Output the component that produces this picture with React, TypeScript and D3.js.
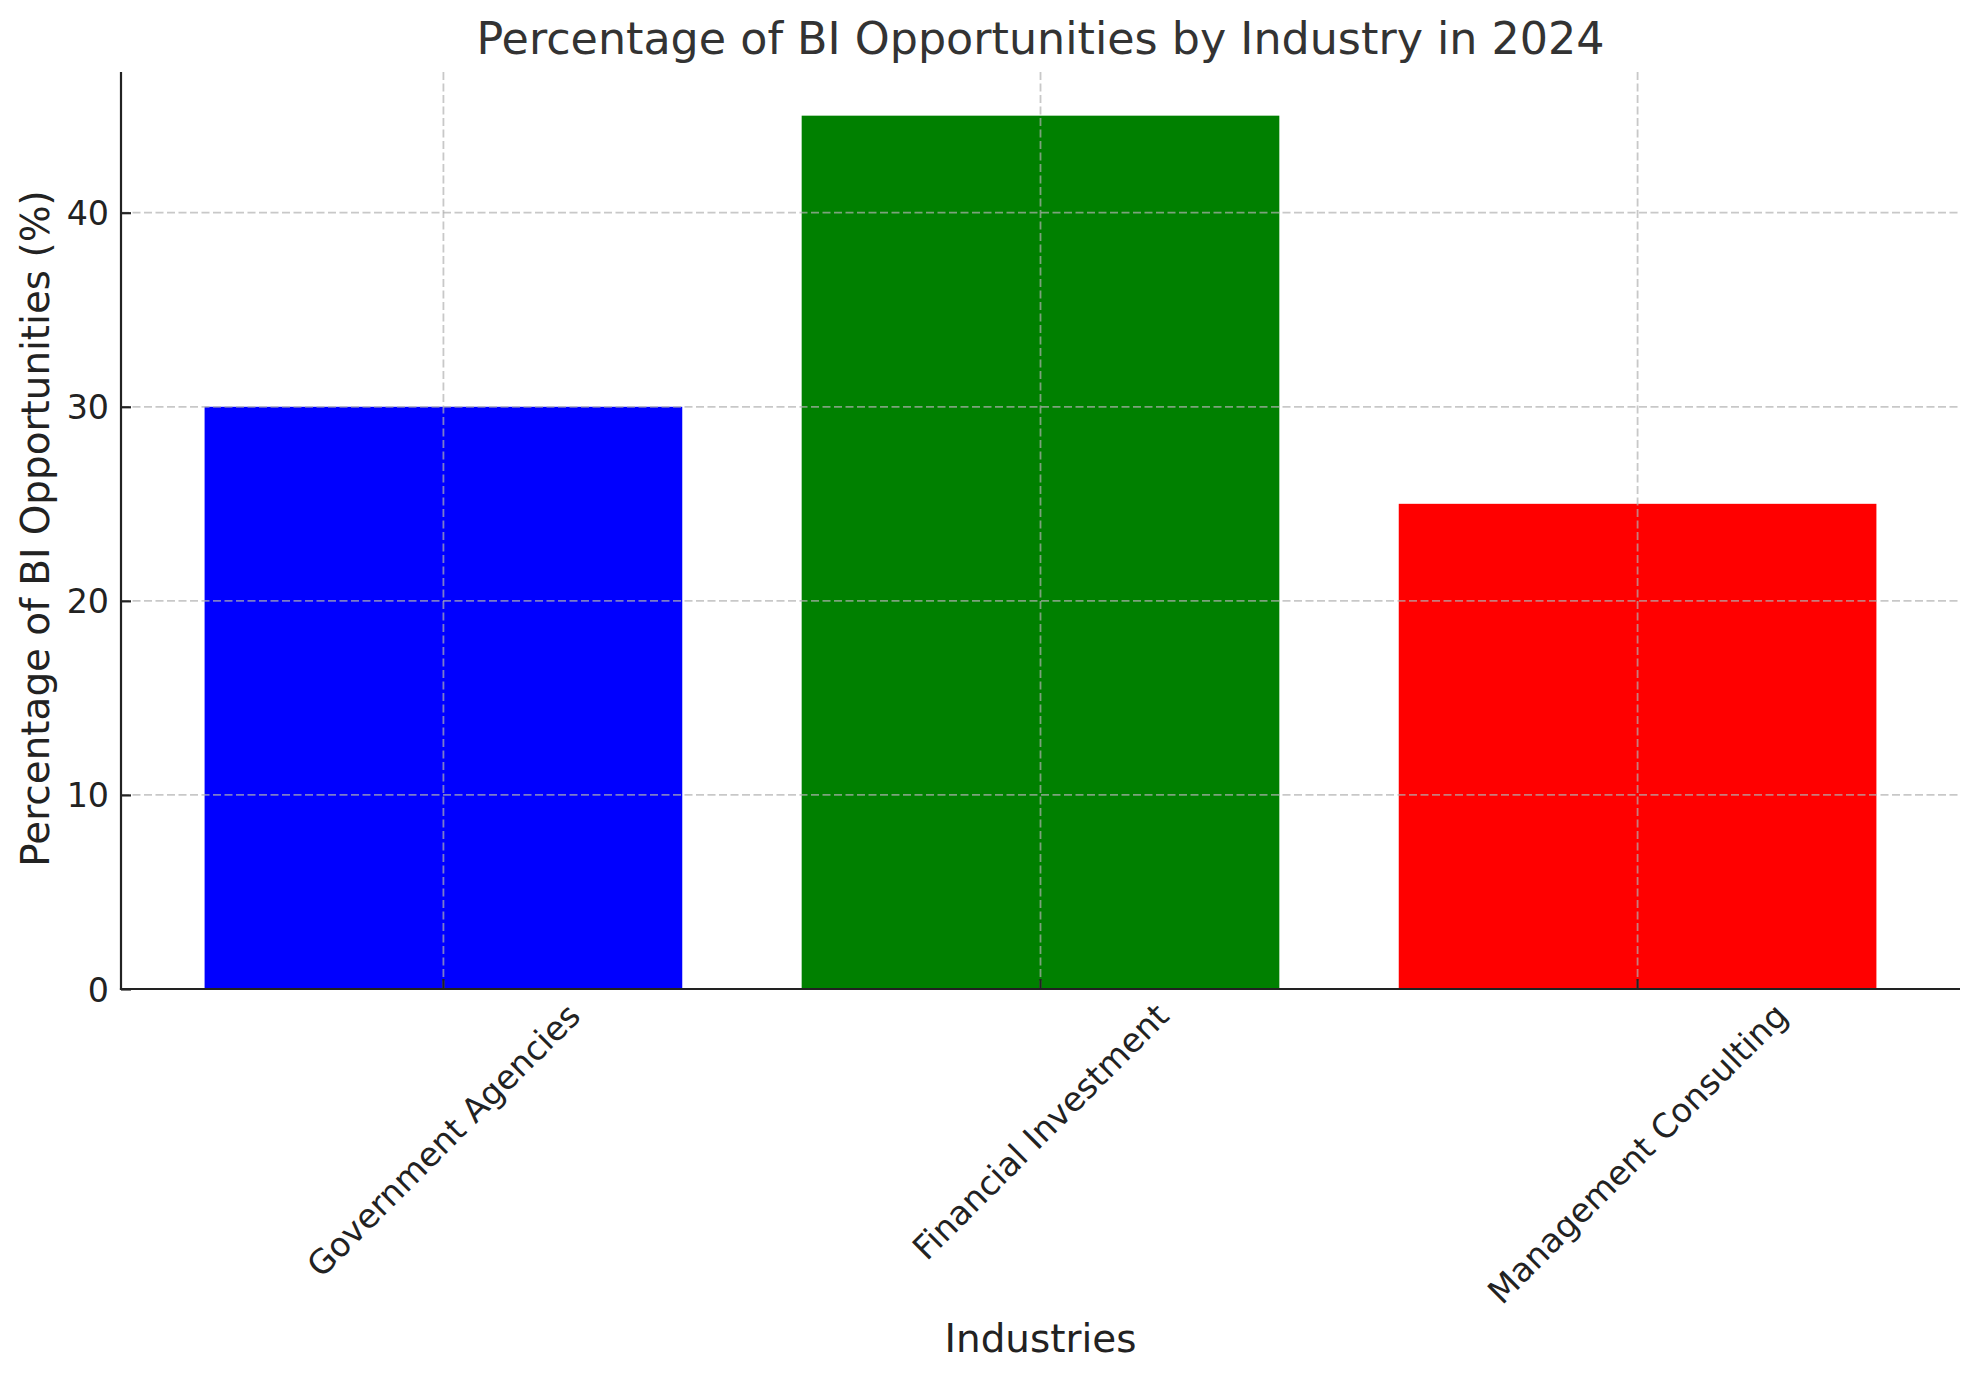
import { useEffect, useRef } from 'react'
import * as d3 from 'd3'

// Chart data
const industries = ['Government Agencies', 'Financial Investment', 'Management Consulting']
const percentages = [30, 45, 25]
const barColors = ['#0000ff', '#008000', '#ff0000']
const yTicks = [0, 10, 20, 30, 40]

const W = 1979
const H = 1380

const App = () => {
	const svgRef = useRef<SVGSVGElement>(null)

	useEffect(() => {
		document.body.style.margin = '0'

		const margin = { top: 72, right: 19, bottom: 391, left: 121 }
		const x0 = margin.left
		const x1 = W - margin.right
		const y0 = H - margin.bottom
		const y1 = margin.top
		const font = 'DejaVu Sans, sans-serif'

		const svg = d3.select(svgRef.current)
		svg.selectAll('*').remove()
		svg.attr('width', W).attr('height', H).style('display', 'block').style('background', '#fff')

		// Scales
		const x = d3
			.scaleBand<string>()
			.domain(industries)
			.range([x0, x1])
			.paddingInner(0.2)
			.paddingOuter(0.14)
		const y = d3
			.scaleLinear()
			.domain([0, d3.max(percentages)! * 1.05])
			.range([y0, y1])

		// Bars
		svg
			.append('g')
			.selectAll('rect')
			.data(industries)
			.enter()
			.append('rect')
			.attr('x', (d) => x(d)!)
			.attr('width', x.bandwidth())
			.attr('y', (d, i) => y(percentages[i]))
			.attr('height', (d, i) => y0 - y(percentages[i]))
			.attr('fill', (d, i) => barColors[i])

		// Grid (drawn over the bars)
		const grid = svg
			.append('g')
			.attr('stroke', '#b0b0b0')
			.attr('stroke-opacity', 0.7)
			.attr('stroke-width', 1.8)
			.attr('stroke-dasharray', '8,3.5')
		grid
			.selectAll('line.gy')
			.data(yTicks)
			.enter()
			.append('line')
			.attr('class', 'gy')
			.attr('x1', x0)
			.attr('x2', x1)
			.attr('y1', (d) => y(d))
			.attr('y2', (d) => y(d))
		grid
			.selectAll('line.gx')
			.data(industries)
			.enter()
			.append('line')
			.attr('class', 'gx')
			.attr('x1', (d) => x(d)! + x.bandwidth() / 2)
			.attr('x2', (d) => x(d)! + x.bandwidth() / 2)
			.attr('y1', y1)
			.attr('y2', y0)

		// Y axis: ticks point inward
		const yAxis = svg
			.append('g')
			.attr('transform', `translate(${x0},0)`)
			.call(d3.axisRight(y).tickValues(yTicks).tickSize(10).tickPadding(0).tickFormat(d3.format('d')))
		yAxis.select('.domain').remove()
		yAxis.selectAll('.tick line').attr('stroke', '#222').attr('stroke-width', 2.2)
		yAxis
			.selectAll('.tick text')
			.attr('x', -12)
			.attr('dy', '0.36em')
			.attr('text-anchor', 'end')
			.style('font-family', font)
			.style('font-size', '33.3px')
			.style('fill', '#222')

		// X axis ticks (inward)
		const xAxis = svg
			.append('g')
			.attr('transform', `translate(0,${y0})`)
			.call(d3.axisTop(x).tickSize(10).tickFormat(() => ''))
		xAxis.select('.domain').remove()
		xAxis.selectAll('.tick line').attr('stroke', '#222').attr('stroke-width', 2.2)

		// Spines (left and bottom only)
		svg
			.append('line')
			.attr('x1', x0)
			.attr('x2', x0)
			.attr('y1', y1)
			.attr('y2', y0 + 1.1)
			.attr('stroke', '#222')
			.attr('stroke-width', 2.2)
		svg
			.append('line')
			.attr('x1', x0 - 1.1)
			.attr('x2', x1)
			.attr('y1', y0)
			.attr('y2', y0)
			.attr('stroke', '#222')
			.attr('stroke-width', 2.2)

		// Rotated category labels, bbox top aligned under the axis, centred on the tick
		const labelSize = 33.3
		industries.forEach((name) => {
			const cx = x(name)! + x.bandwidth() / 2
			const t = svg
				.append('text')
				.text(name)
				.attr('text-anchor', 'middle')
				.attr('dy', '0.35em')
				.style('font-family', font)
				.style('font-size', `${labelSize}px`)
				.style('fill', '#222')
			const len = (t.node() as SVGTextElement).getComputedTextLength()
			const half = (len + labelSize * 1.16) / Math.SQRT2 / 2
			const cy = y0 + 7 + half
			t.attr('x', cx).attr('y', cy).attr('transform', `rotate(-45,${cx},${cy})`)
		})

		// Title
		svg
			.append('text')
			.attr('x', (x0 + x1) / 2)
			.attr('y', 54)
			.attr('text-anchor', 'middle')
			.style('font-family', font)
			.style('font-size', '44.4px')
			.style('fill', '#333')
			.text('Percentage of BI Opportunities by Industry in 2024')

		// Axis labels
		svg
			.append('text')
			.attr('x', (x0 + x1) / 2)
			.attr('y', 1352)
			.attr('text-anchor', 'middle')
			.style('font-family', font)
			.style('font-size', '38.9px')
			.style('fill', '#222')
			.text('Industries')

		svg
			.append('text')
			.attr('transform', `translate(49,${(y0 + y1) / 2 - 2}) rotate(-90)`)
			.attr('text-anchor', 'middle')
			.style('font-family', font)
			.style('font-size', '38.9px')
			.style('fill', '#222')
			.text('Percentage of BI Opportunities (%)')
	}, [])

	return <svg ref={svgRef}></svg>
}

export default App
